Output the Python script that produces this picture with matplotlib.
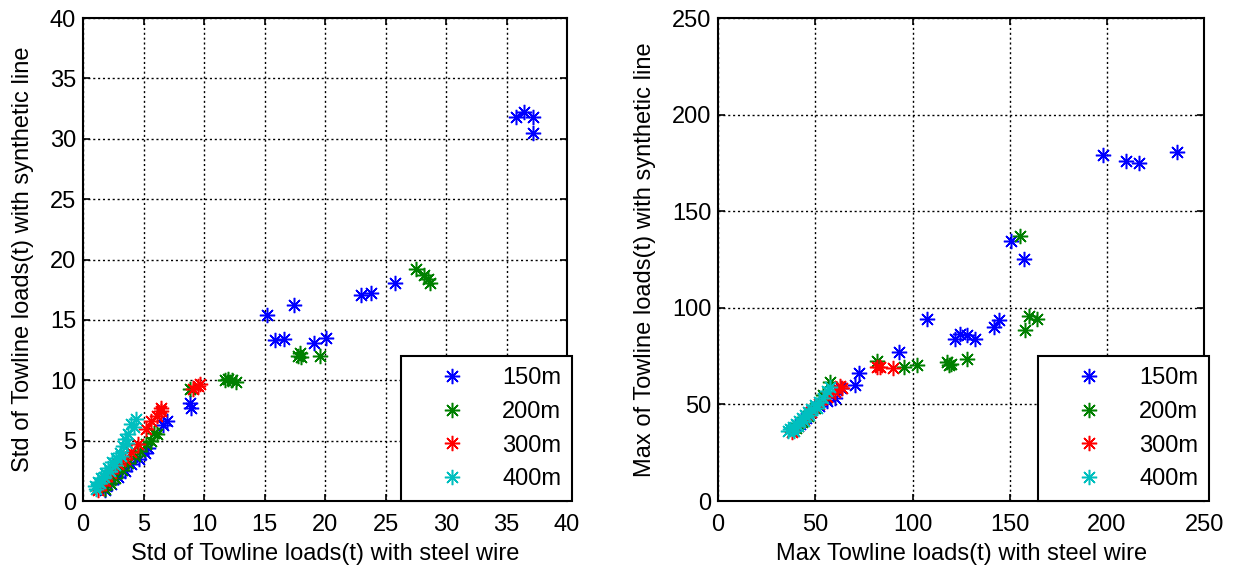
import matplotlib.pyplot as plt

plt.rcParams['font.family'] = ['Liberation Sans', 'DejaVu Sans']

# desvio padrao (Std) - cabo de aco x cabo sintetico
std150_x = [1.8, 2.35, 2.9, 3.45, 4.0, 4.6, 5.1, 5.4, 6.6, 6.9, 8.8, 8.96, 15.2, 15.9, 16.6,
            17.4, 19.1, 20.1, 23.0, 23.8, 25.8, 35.8, 36.4, 37.2, 37.2]
std150_y = [0.9, 1.4, 2.0, 2.5, 3.05, 3.5, 4.0, 4.4, 6.3, 6.6, 8.1, 7.75, 15.4, 13.3, 13.4,
            16.2, 13.1, 13.5, 17.1, 17.2, 18.1, 31.8, 32.2, 31.8, 30.5]

std200_x = [1.8, 2.2, 2.62, 3.2, 3.72, 4.3, 4.69, 5.24, 5.65, 5.9, 6.07, 8.8, 11.7, 12.0,
            12.3, 12.6, 17.8, 18.05, 17.9, 19.6, 27.5, 28.2, 28.5, 28.7]
std200_y = [0.97, 1.5, 1.94, 2.6, 3.18, 3.7, 4.15, 4.71, 4.98, 5.67, 5.54, 9.3, 10.0, 10.1,
            10.0, 9.9, 12.0, 11.9, 12.3, 12.0, 19.2, 18.7, 18.4, 18.1]

std300_x = [1.2, 1.5, 1.8, 2.3, 2.9, 3.45, 4.0, 4.55, 5.2, 5.65, 6.07, 6.48, 6.48, 9.1, 9.5, 9.7]
std300_y = [0.9, 1.3, 1.66, 2.3, 3.05, 3.46, 4.1, 4.71, 6.0, 6.64, 7.06, 7.75, 7.47, 9.3, 9.55, 9.7]

std400_x = [0.97, 1.1, 1.2, 1.4, 1.52, 1.7, 1.8, 2.07, 2.2, 2.4, 2.6, 2.76, 3.03, 3.1, 3.3,
            3.45, 3.6, 3.72, 4.0, 4.2, 4.41]
std400_y = [1.25, 1.0, 1.6, 1.5, 1.94, 2.0, 2.35, 2.77, 2.5, 3.2, 3.0, 3.6, 4.01, 3.7, 4.6,
            5.12, 4.8, 5.54, 6.37, 6.1, 6.79]

# maximo (Max)
max150_x = [42, 45, 48, 52, 56, 60.3, 63, 70.4, 72.3, 92.8, 107.7, 122, 124.2, 128, 132.3,
            141.8, 144.7, 150.9, 157.2, 198.1, 209.8, 216.5, 235.9]
max150_y = [40, 43, 46, 49, 52, 53.3, 58.5, 60.2, 66.2, 77.3, 94.4, 84.1, 86.7, 85.8, 83.7,
            90, 93.5, 134.5, 125.3, 178.9, 176, 174.8, 180.6]

max200_x = [40, 43, 46, 50, 54, 57.6, 81.6, 95.4, 102.3, 117.7, 118.6, 120, 128, 155.5,
            158.1, 159.8, 164.1]
max200_y = [38, 41, 44, 48, 55, 61.9, 72.5, 69.6, 70.4, 71.8, 70.5, 71, 73.8, 137.2,
            88.3, 95.6, 94.4]

max300_x = [38, 41, 44, 48, 52, 56, 60, 62.7, 63.7, 81.5, 83.3, 90.2]
max300_y = [36, 39, 42, 46, 50, 54, 56.5, 59.4, 58.5, 69.6, 69.6, 69.1]

max400_x = [36, 37, 38.5, 39, 40, 41, 41.5, 43, 44, 44.5, 46, 47, 48, 50, 51, 52, 54, 55.8,
            57.6]
max400_y = [36.5, 37.1, 38.5, 36.5, 40, 39, 41.5, 43, 41.5, 44.5, 46, 44.5, 47.5, 49.5,
            48, 51.5, 53.5, 56.8, 59.3]

rotulos = ['150m', '200m', '300m', '400m']
cores = ['#0000ff', '#008000', '#ff0000', '#00bfbf']

asterisco = (8, 2, 0)
fonte = 17

fig = plt.figure(figsize=(12.36, 5.74), dpi=100)
ax1 = fig.add_axes([0.0672, 0.127, 0.3916, 0.8415])
ax2 = fig.add_axes([0.581, 0.127, 0.3932, 0.8415])

dadosStd = [(std150_x, std150_y), (std200_x, std200_y), (std300_x, std300_y), (std400_x, std400_y)]
dadosMax = [(max150_x, max150_y), (max200_x, max200_y), (max300_x, max300_y), (max400_x, max400_y)]

for ax, dados in [(ax1, dadosStd), (ax2, dadosMax)]:
    for (x, y), cor, rot in zip(dados, cores, rotulos):
        ax.plot(x, y, linestyle='none', marker=asterisco, markersize=11,
                markeredgewidth=1.1, color=cor, label=rot)

ax1.set_xlim(0, 40)
ax1.set_ylim(0, 40)
ax1.set_xticks(range(0, 41, 5))
ax1.set_yticks(range(0, 41, 5))
ax1.set_xlabel('Std of Towline loads(t) with steel wire', fontsize=fonte)
ax1.set_ylabel('Std of Towline loads(t) with synthetic line', fontsize=fonte)

ax2.set_xlim(0, 250)
ax2.set_ylim(0, 250)
ax2.set_xticks(range(0, 251, 50))
ax2.set_yticks(range(0, 251, 50))
ax2.set_xlabel('Max Towline loads(t) with steel wire', fontsize=fonte)
ax2.set_ylabel('Max of Towline loads(t) with synthetic line', fontsize=fonte)

ax1.yaxis.set_label_coords(-0.101, 0.5)
ax2.yaxis.set_label_coords(-0.128, 0.5)

for ax in [ax1, ax2]:
    ax.xaxis.set_label_coords(0.5, -0.087)
    ax.grid(True, color='black', linestyle=(0, (1.5, 2)), linewidth=1.0)
    ax.tick_params(direction='in', top=True, right=True, labelsize=fonte, length=5, width=1.2)
    ax.tick_params(axis='x', pad=9)
    ax.tick_params(axis='y', pad=5)
    for sp in ax.spines.values():
        sp.set_linewidth(1.5)
    leg = ax.legend(loc='lower right', bbox_to_anchor=(1.01, 0.0), fontsize=fonte,
                    frameon=True, fancybox=False, edgecolor='black', framealpha=1,
                    handlelength=3.46, handletextpad=0.39, borderpad=0.45,
                    labelspacing=0.5, borderaxespad=0)
    leg.get_frame().set_linewidth(1.5)
    leg.set_zorder(5)

plt.savefig('out.png', dpi=100)
